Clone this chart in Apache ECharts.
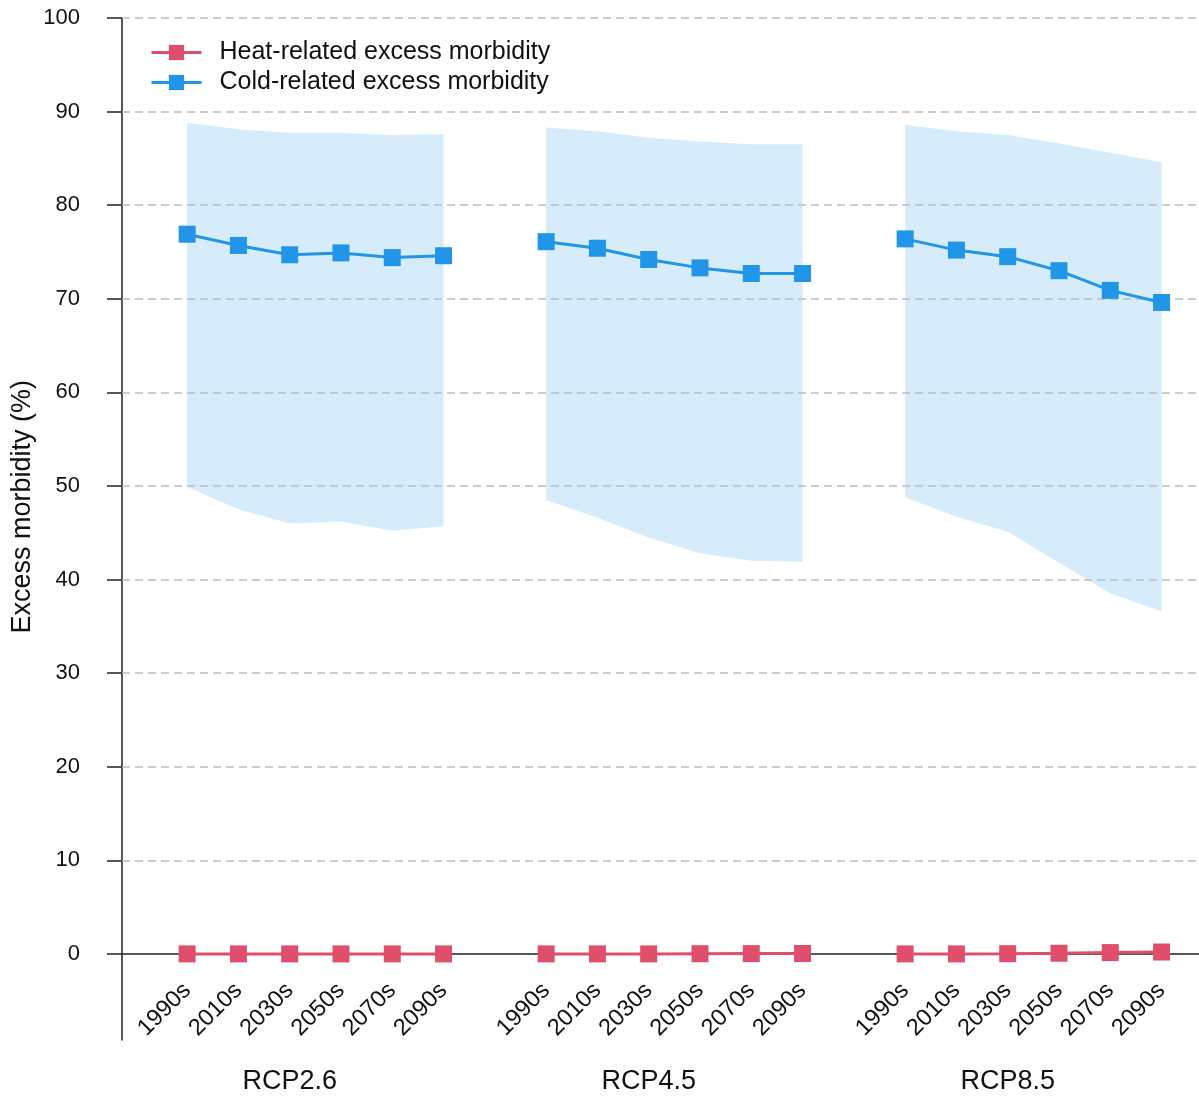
<!DOCTYPE html>
<html>
<head>
<meta charset="utf-8">
<script src="https://cdn.jsdelivr.net/npm/echarts@6/dist/echarts.min.js"></script>
<style>
html,body{margin:0;padding:0;background:#fff;}
#main{width:1199px;height:1098px;}
</style>
</head>
<body>
<div id="main"></div>
<script>
// 年代标签与情景
var decades   = ['1990s','2010s','2030s','2050s','2070s','2090s'];
var scenarios = ['RCP2.6','RCP4.5','RCP8.5'];
var yTicks    = [0,10,20,30,40,50,60,70,80,90,100];

// 冷相关超额发病 (均值, 上下界), 每个情景6个年代
var coldMean  = [[76.9,75.7,74.7,74.9,74.4,74.6],
                 [76.1,75.4,74.2,73.3,72.7,72.7],
                 [76.4,75.2,74.5,73.0,70.9,69.6]];
var coldUpper = [[88.8,88.1,87.7,87.7,87.5,87.6],
                 [88.3,87.9,87.2,86.8,86.5,86.5],
                 [88.6,87.9,87.5,86.6,85.6,84.6]];
var coldLower = [[49.9,47.5,46.0,46.2,45.2,45.7],
                 [48.5,46.6,44.5,42.8,42.0,41.9],
                 [48.8,46.7,45.1,41.8,38.5,36.6]];
// 热相关超额发病
var heatMean  = [[0.0,0.0,0.0,0.0,0.0,0.0],
                 [0.0,0.0,0.0,0.02,0.03,0.04],
                 [0.0,0.0,0.02,0.07,0.14,0.2]];

var step = decades.length+1;  //!< 每组之间空一格
var cold = '#2196e8', heat = '#df4f6b';

function lineData(arr) {
	var out = [];
	for (var g=0; g<arr.length; ++g) {
		for (var k=0; k<arr[g].length; ++k) out.push([g*step+k, arr[g][k]]);
		if (g<arr.length-1) out.push([g*step+decades.length, '-']);
	}
	return out;
}
var xLabelPos = [];
for (var g=0; g<scenarios.length; ++g)
	for (var k=0; k<decades.length; ++k) xLabelPos.push(g*step+k);
var scenPos = scenarios.map(function(s,g){return g*step+2;});

var chart = echarts.init(document.getElementById('main'));
var font = 'Liberation Sans, Arial, sans-serif';
var yMin = -9.2, yMax = 100;
var gridTop = 18, gridBottom = 58, H = 1098;
// x轴画在y=0处
var zeroOffset = -(H-gridTop-gridBottom)*(0-yMin)/(yMax-yMin);

var option = {
	animation: false,
	textStyle: {fontFamily: font},
	grid: {left:122, right:0, top:gridTop, bottom:gridBottom},
	legend: {
		left: 145, top: 35, orient: 'vertical',
		itemWidth: 50, itemHeight: 19, itemGap: 5,
		lineStyle: {width: 3},
		textStyle: {fontSize: 25, color:'#111', fontFamily: font, padding:[0,0,0,13]},
		data: ['Heat-related excess morbidity','Cold-related excess morbidity']
	},
	xAxis: [{
		type: 'value', min: -1.27, max: 19.73, position:'bottom', offset: zeroOffset,
		axisLine: {onZero: false, lineStyle:{color:'#222', width:1.5}},
		axisTick: {show:false},
		splitLine: {show:false},
		axisLabel: {
			customValues: xLabelPos, rotate: 45, margin: 33,
			fontSize: 23.5, color:'#111', fontFamily: font,
			formatter: function(v){ return decades[Math.round(v)%step]; }
		}
	},{
		type: 'value', min: -1.27, max: 19.73, position:'bottom',
		axisLine: {show:false, onZero:false},
		axisTick: {show:false},
		splitLine: {show:false},
		axisLabel: {
			customValues: scenPos, margin: 28, fontSize: 27, color:'#111', fontFamily: font,
			formatter: function(v){ return scenarios[Math.round((v-2)/step)]; }
		}
	}],
	yAxis: {
		type: 'value', min: yMin, max: yMax,
		axisLine: {show:true, onZero:false, lineStyle:{color:'#222', width:1.5}},
		axisTick: {show:true, customValues: yTicks, length:15, lineStyle:{color:'#222', width:1.5}},
		axisLabel: {customValues: yTicks, margin: 42, fontSize: 22, color:'#111', fontFamily: font},
		splitLine: {show:false}
	},
	graphic: [{
		type:'text', left: 9, top: 380, rotation: Math.PI/2,
		style: {text:'Excess morbidity (%)', fontSize: 27, fill:'#111', font: '27px ' + font}
	}],
	series: [{
		type: 'custom', name: 'band', silent: true, z: 1,
		data: [0,1,2],
		renderItem: function(params, api) {
			var g = params.dataIndex;
			var pts = [];
			for (var k=0;k<decades.length;++k) pts.push(api.coord([g*step+k, coldUpper[g][k]]));
			for (var k=decades.length-1;k>=0;--k) pts.push(api.coord([g*step+k, coldLower[g][k]]));
			return {type:'polygon', shape:{points:pts}, style:{fill:'rgba(33,150,232,0.18)'}};
		}
	},{
		type: 'line', name: 'grid', silent: true, data: [], z: 2,
		markLine: {
			silent: true, symbol: 'none', label:{show:false},
			lineStyle: {color:'#bdbdbd', type:[8,5], width:1.5},
			data: yTicks.slice(1).map(function(v){return {yAxis:v};})
		}
	},{
		type: 'line', name: 'Cold-related excess morbidity', z: 5,
		data: lineData(coldMean),
		symbol: 'rect', symbolSize: 17,
		itemStyle: {color: cold},
		lineStyle: {color: cold, width: 3}
	},{
		type: 'line', name: 'Heat-related excess morbidity', z: 5,
		data: lineData(heatMean),
		symbol: 'rect', symbolSize: 17,
		itemStyle: {color: heat},
		lineStyle: {color: heat, width: 3}
	}]
};
chart.setOption(option);
</script>
</body>
</html>
